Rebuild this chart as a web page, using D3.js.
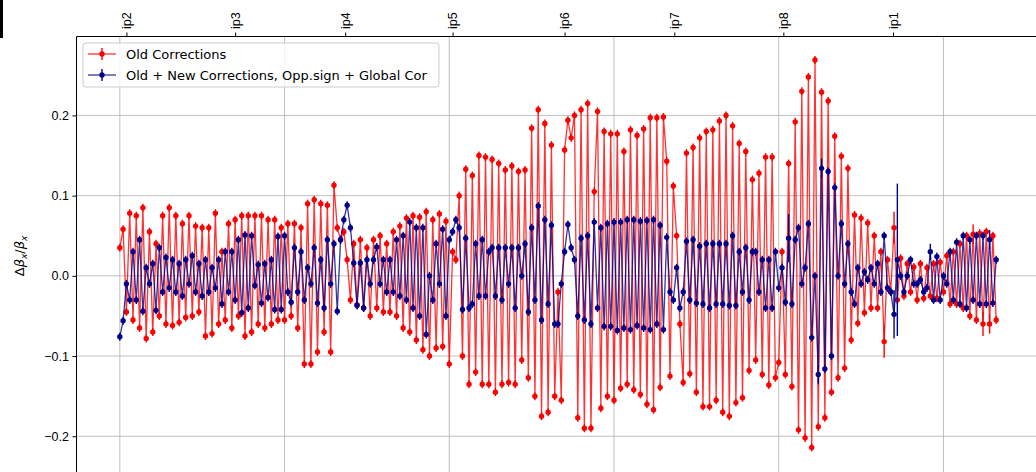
<!DOCTYPE html>
<html>
<head>
<meta charset="utf-8">
<script src="https://cdn.jsdelivr.net/npm/d3@7"></script>
<style>
    html, body { margin: 0; padding: 0; background: #fff; }
    svg { display: block; font-family: "DejaVu Sans", sans-serif; }
</style>
</head>
<body>
<div id="chart"></div>
<script>
// IP labels on the top axis and their longitudinal position (m)
const ipNames = ['ip2', 'ip3', 'ip4', 'ip5', 'ip6', 'ip7', 'ip8', 'ip1'];
const ipS = [200, 3500, 6840, 10100, 13500, 16830, 20140, 23470];

const yTicks = [-0.2, -0.1, 0.0, 0.1, 0.2];
const sGrid = [0, 5000, 10000, 15000, 20000, 25000];

// BPM spacing along the ring (m), first BPM at s = 0
const bpmStep = 100;

// beta-beating, old corrections
const oldCorr = [
    .035, .058, -.045, .078, -.055, .075, -.065, .085, -.078, .055,
    -.07, .04, -.05, .075, -.06, .085, -.062, .075, -.058, .065,
    -.052, .075, -.05, .062, -.045, .06, -.075, .06, -.072, .078,
    -.06, .03, -.055, .065, -.065, .07, -.05, .075, -.075, .075,
    -.07, .075, -.06, .075, -.065, .07, -.06, .07, -.055, .06,
    -.055, .065, -.05, .065, -.065, .06, -.11, .09, -.11, .095,
    -.095, .09, -.07, .088, -.095, .113, .06, .045, .055, .02,
    -.03, .04, -.036, .045, -.04, .035, -.05, .045, -.04, .05,
    -.045, .04, -.045, .055, -.05, .062, -.065, .072, -.07, .075,
    -.08, .073, -.092, .08, -.1, .07, -.09, .077, -.088, .068,
    -.11, .03, .02, .1, -.1, .133, -.135, .125, -.12, .15,
    -.135, .148, -.135, .145, -.145, .14, -.135, .132, -.133, .137,
    -.135, .13, -.105, .132, -.127, .184, -.15, .207, -.175, .19,
    -.17, .163, -.15, -.02, -.155, .157, .194, .172, .2, -.177,
    .207, -.19, .215, -.19, .105, .205, -.165, .18, -.15, .177,
    -.155, .177, -.14, .155, -.135, .182, -.142, .175, -.148, .183,
    -.16, .197, -.167, .197, -.139, .198, .143, -.125, .112, .05,
    -.06, -.133, .153, -.122, .16, -.145, .172, -.163, .18, -.163,
    .182, -.155, .193, -.17, .2, -.175, .187, -.158, .165, -.152,
    .155, -.118, .12, -.105, .128, -.123, .148, -.136, .148, -.127,
    -.108, .03, -.123, .14, -.138, .192, -.192, .23, -.202, .248,
    -.214, .269, -.188, .229, -.177, .218, -.145, .174, -.127, .149,
    -.115, .134, -.08, .076, -.059, .072, -.046, .066, -.04, .05,
    -.04, .03, -.082, .02, -.02, .06, -.03, .022, -.025, .015,
    -.02, .011, -.03, .015, -.028, .01, -.025, .015, -.028, .017,
    -.02, .025, -.035, .03, -.035, .04, -.04, .05, -.05, .052,
    -.055, .053, -.06, .055, -.06, .05, -.055
];

// beta-beating, old + new corrections, opposite sign + global correction
const newCorr = [
    -.076, -.056, -.01, -.03, .03, -.03, .045, -.044, .01, -.01,
    .015, -.043, .035, -.02, .023, -.015, .02, -.02, .015, -.025,
    .02, -.01, .025, -.02, .015, -.025, .02, -.02, .01, -.015,
    .02, -.035, .03, -.02, .03, -.03, .045, -.046, .051, -.04,
    .05, -.012, .014, -.034, .015, -.027, .02, -.042, .049, -.042,
    .05, -.02, -.033, .035, -.02, .03, -.03, .01, -.01, .035,
    -.034, .02, -.04, .045, -.01, .04, -.044, .045, .07, .088,
    .06, .016, -.037, .016, -.04, .02, -.01, .02, .036, -.01,
    .02, -.02, .02, -.02, .045, -.025, .05, -.03, .067, -.04,
    .06, -.05, .06, -.073, .0, -.03, .04, -.01, .058, -.05,
    .045, .055, .07, .06, -.042, .047, -.04, -.035, .04, -.025,
    .045, -.025, .03, .035, -.025, .035, -.03, .035, -.01, .035,
    -.04, .035, .0, .04, -.045, .06, -.03, .087, -.055, .07,
    -.035, .063, -.06, -.06, -.01, .03, .064, .035, .02, -.05,
    .047, -.055, .05, -.06, .067, -.04, .06, -.063, .065, -.063,
    .067, -.068, .067, -.065, .07, -.067, .07, -.062, .068, -.065,
    .069, -.067, .07, -.06, .063, -.067, .048, -.02, -.03, .01,
    -.04, -.02, .043, -.03, .045, -.034, .037, -.035, .04, -.04,
    .04, -.035, .04, -.035, .04, -.037, .05, -.037, .03, -.02,
    .035, -.03, .03, .03, -.02, .02, -.04, .02, -.04, .03,
    -.015, .01, -.033, .047, -.035, .045, .06, -.01, .01, .065,
    -.077, .0, -.123, .134, -.116, .13, -.1, .11, .0, .065,
    -.01, .04, -.02, -.035, .01, -.01, .005, -.005, .01, -.01,
    .015, -.02, .05, -.015, -.02, -.048, .02, .0, -.02, .0,
    .02, -.01, -.01, -.005, -.02, -.015, .03, -.03, .024, -.03,
    .0, -.01, .03, -.03, .042, -.035, .05, -.04, .045, -.03,
    .05, -.035, .05, -.035, .045, -.034, .02
];

// error bars: typical size and the few larger ones [index, error]
const errTypical = 0.005;
const oldErrLarge = [[232, .02], [235, .02], [259, .012], [262, .015], [264, .012]];
const newErrLarge = [[203, .03], [212, .012], [213, .012], [235, .03], [236, .095], [246, .01], [264, .012]];

const seriesNames = ['Old Corrections', 'Old + New Corrections, Opp.sign + Global Cor'];
const seriesColors = ['#ff0000', '#00008b'];

const W = 1036, H = 472;
const svg = d3.select('#chart').append('svg')
    .attr('width', W)
    .attr('height', H);

const plotLeft = 76, plotTop = 36, plotRight = 1040, plotBottom = 486;

const x = d3.scaleLinear()
    .domain([-1330, 27930])
    .range([plotLeft, plotRight]);

const y = d3.scaleLinear()
    .domain([0.299, -0.262])
    .range([plotTop, plotBottom]);

svg.append('defs').append('clipPath')
    .attr('id', 'plotclip')
    .append('rect')
    .attr('x', plotLeft)
    .attr('y', plotTop)
    .attr('width', plotRight - plotLeft)
    .attr('height', plotBottom - plotTop);

// grid
const grid = svg.append('g');
grid.selectAll('.vgrid')
    .data(sGrid)
    .enter().append('line')
    .attr('x1', d => x(d)).attr('x2', d => x(d))
    .attr('y1', plotTop).attr('y2', plotBottom)
    .attr('stroke', '#b0b0b0')
    .attr('stroke-width', 0.8);
grid.selectAll('.hgrid')
    .data(yTicks)
    .enter().append('line')
    .attr('x1', plotLeft).attr('x2', plotRight)
    .attr('y1', d => y(d)).attr('y2', d => y(d))
    .attr('stroke', '#b0b0b0')
    .attr('stroke-width', 0.8);

// series
function buildPoints(values, bigErr) {
    const errMap = new Map(bigErr);
    return values.map((v, i) => ({ s: i * bpmStep, v: v, e: errMap.has(i) ? errMap.get(i) : errTypical }));
}

const data = [buildPoints(oldCorr, oldErrLarge), buildPoints(newCorr, newErrLarge)];

const line = d3.line()
    .x(d => x(d.s))
    .y(d => y(d.v));

const plot = svg.append('g').attr('clip-path', 'url(#plotclip)');

data.forEach((pts, k) => {
    const g = plot.append('g');
    g.selectAll('.err')
        .data(pts)
        .enter().append('line')
        .attr('x1', d => x(d.s)).attr('x2', d => x(d.s))
        .attr('y1', d => y(d.v + d.e)).attr('y2', d => y(d.v - d.e))
        .attr('stroke', seriesColors[k])
        .attr('stroke-width', 1.4);
    g.append('path')
        .datum(pts)
        .attr('d', line)
        .attr('fill', 'none')
        .attr('stroke', seriesColors[k])
        .attr('stroke-opacity', 0.8)
        .attr('stroke-width', 1.3);
    g.selectAll('.dot')
        .data(pts)
        .enter().append('circle')
        .attr('cx', d => x(d.s))
        .attr('cy', d => y(d.v))
        .attr('r', 2.7)
        .attr('fill', seriesColors[k]);
});

// axes
const yAxis = svg.append('g')
    .attr('transform', `translate(${plotLeft},0)`)
    .call(d3.axisLeft(y).tickValues(yTicks).tickSize(3.5).tickPadding(3.5).tickSizeOuter(0)
        .tickFormat(d3.format('.1f')));
yAxis.selectAll('text').style('font-size', '12.5px').attr('fill', '#000');
yAxis.select('.domain').attr('stroke', '#000').attr('stroke-width', 1);

const topAxis = svg.append('g')
    .attr('transform', `translate(0,${plotTop})`)
    .call(d3.axisTop(x).tickValues(ipS).tickSize(3.5).tickSizeOuter(0)
        .tickFormat((d, i) => ipNames[i]));
topAxis.select('.domain').attr('stroke', '#000').attr('stroke-width', 1);
topAxis.selectAll('text')
    .attr('transform', 'rotate(-90)')
    .attr('x', 7)
    .attr('y', 0)
    .attr('dy', '0.35em')
    .style('text-anchor', 'start')
    .style('font-size', '12.5px')
    .attr('fill', '#000');

// y label
svg.append('text')
    .attr('transform', 'translate(24,256) rotate(-90)')
    .attr('text-anchor', 'middle')
    .style('font-size', '13px')
    .html('Δ<tspan font-style="italic">β</tspan><tspan font-style="italic" font-size="9px" dy="3">x</tspan><tspan dy="-3">/</tspan><tspan font-style="italic">β</tspan><tspan font-style="italic" font-size="9px" dy="3">x</tspan>');

// legend
const legend = svg.append('g');
legend.append('rect')
    .attr('x', 83).attr('y', 43)
    .attr('width', 356).attr('height', 44)
    .attr('rx', 3)
    .attr('fill', '#fff')
    .attr('fill-opacity', 0.8)
    .attr('stroke', '#cccccc');

seriesNames.forEach((name, k) => {
    const ly = 54 + k * 21;
    legend.append('line')
        .attr('x1', 88).attr('x2', 116)
        .attr('y1', ly).attr('y2', ly)
        .attr('stroke', seriesColors[k])
        .attr('stroke-opacity', 0.8)
        .attr('stroke-width', 1.3);
    legend.append('line')
        .attr('x1', 102).attr('x2', 102)
        .attr('y1', ly - 6).attr('y2', ly + 6)
        .attr('stroke', seriesColors[k])
        .attr('stroke-width', 1.4);
    legend.append('circle')
        .attr('cx', 102).attr('cy', ly)
        .attr('r', 2.7)
        .attr('fill', seriesColors[k]);
    legend.append('text')
        .attr('x', 126).attr('y', ly)
        .attr('dy', '0.35em')
        .style('font-size', '13px')
        .text(name);
});

// dark strip at the top-left corner of the screenshot
svg.append('rect')
    .attr('x', 0).attr('y', 0)
    .attr('width', 3).attr('height', 38)
    .attr('fill', '#000');
</script>
</body>
</html>
